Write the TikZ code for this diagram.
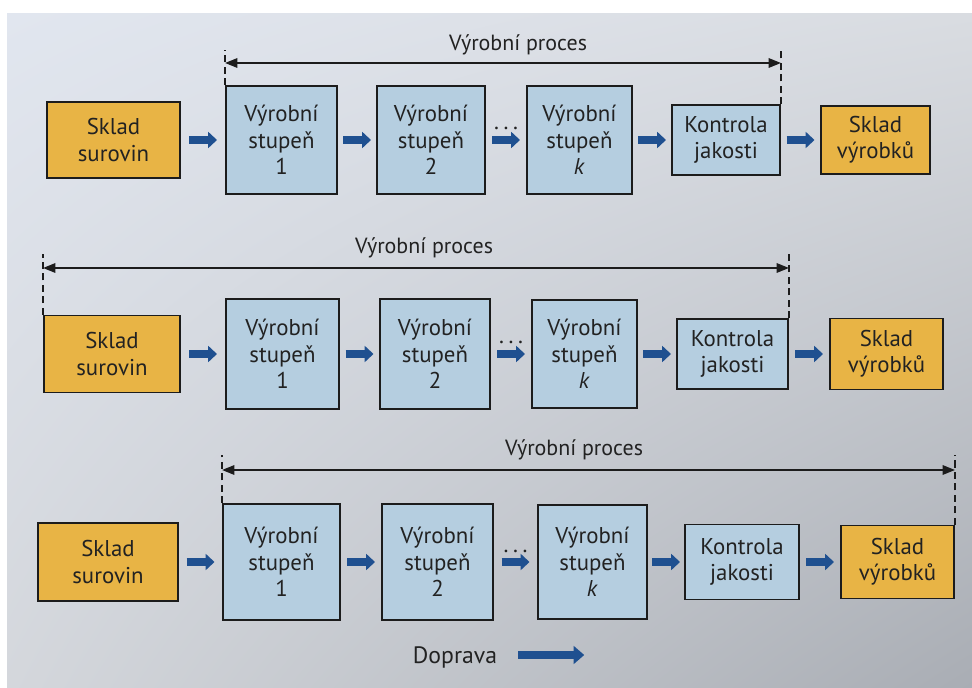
\documentclass[tikz,border=0pt]{standalone}
\usepackage{fontspec}
\setmainfont{PT Sans}
\usetikzlibrary{arrows.meta,calc,shadings}

\definecolor{storeyellow}{HTML}{E8B445}
\definecolor{stageblue}{HTML}{B5CEE0}
\definecolor{flowblue}{HTML}{1F5090}
\definecolor{edgeblack}{HTML}{1C1C1C}
\definecolor{inktext}{HTML}{222222}
\definecolor{pagetl}{HTML}{E1E6EF}
\definecolor{pagetr}{HTML}{D9DCE1}
\definecolor{pagebl}{HTML}{D4D7DC}
\definecolor{pagebr}{HTML}{A9ADB4}

% box from x1 to x2, centred vertically on yc, of height h (units: px)
% #1 name, #2 style, #3 x1, #4 x2, #5 yc, #6 h, #7 text
\newcommand\mkbox[7]{%
  \node[#2, minimum width={(#4-#3)*0.02cm}, minimum height={(#6)*0.02cm}]
    (#1) at ({(#3+#4)/2},#5) {#7};}
% widely spaced ellipsis
\newcommand\wdots{.\kern2.6pt.\kern2.6pt.}

\begin{document}
\begin{tikzpicture}[x=0.02cm,y=-0.02cm,
  box/.style={draw=edgeblack, line width=1pt, inner sep=0pt, align=center,
    font=\fontsize{13}{15}\selectfont, text=inktext},
  store/.style={box, fill=storeyellow},
  stage/.style={box, fill=stageblue},
  flow/.style={draw=flowblue, line width=4.3pt, -{Triangle[length=5pt,width=9pt]}},
  span/.style={draw=edgeblack, line width=0.7pt,
    {Triangle[length=7pt,width=5.5pt]}-{Triangle[length=7pt,width=5.5pt]}},
  limit/.style={draw=edgeblack, line width=0.8pt, dash pattern=on 4pt off 2.5pt},
  caption/.style={font=\fontsize{12.5}{14}\selectfont, text=inktext},
  dotsmark/.style={anchor=base, inner sep=0pt, font=\fontsize{13}{14}\selectfont, text=inktext},
]
\useasboundingbox (0,0) rectangle (972,688);

% page
\fill[white] (0,0) rectangle (972,688);
\shade[upper left=pagetl, upper right=pagetr, lower left=pagebl, lower right=pagebr]
  (7,14) rectangle (972,688);

% ---------- variant 1: process from stage 1 to quality control ----------
\mkbox{a1}{store}{47}{180}{140}{76}{Sklad\\surovin}
\mkbox{b1}{stage}{226}{337}{140}{108}{Výrobní\\stupeň\\1}
\mkbox{c1}{stage}{377}{485}{140}{108}{Výrobní\\stupeň\\2}
\mkbox{d1}{stage}{527}{632}{140}{108}{Výrobní\\stupeň\\\textit{k}}
\mkbox{e1}{stage}{672}{780}{140}{70}{Kontrola\\jakosti}
\mkbox{f1}{store}{821}{930}{140}{68}{Sklad\\výrobků}
\foreach \p/\q in {a1/b1,b1/c1,c1/d1,d1/e1,e1/f1}
  \draw[flow] ($(\p.east)!0.5!(\q.west)+(-14,0)$) -- +(28,0);
\node[dotsmark] (dots1) at ($(c1.east)!0.5!(d1.west)+(0,-10)$) {\wdots};
\coordinate (r1line) at (0,63);
\coordinate (r1top) at (0,50);
\draw[limit] (b1.north west) -- (b1.north west |- r1top);
\draw[limit] (e1.north east) -- (e1.north east |- r1top);
\draw[span] (b1.north west |- r1line) -- (e1.north east |- r1line);
\node[caption] (p1) at (518,45) {Výrobní proces};

% ---------- variant 2: process from raw material store to quality control ----------
\mkbox{a2}{store}{44}{180}{354}{77}{Sklad\\surovin}
\mkbox{b2}{stage}{226}{339}{354}{110}{Výrobní\\stupeň\\1}
\mkbox{c2}{stage}{380}{490}{354}{110}{Výrobní\\stupeň\\2}
\mkbox{d2}{stage}{532}{637}{354}{108}{Výrobní\\stupeň\\\textit{k}}
\mkbox{e2}{stage}{677}{788}{354}{70}{Kontrola\\jakosti}
\mkbox{f2}{store}{830}{943}{354}{71}{Sklad\\výrobků}
\foreach \p/\q in {a2/b2,b2/c2,c2/d2,d2/e2,e2/f2}
  \draw[flow] ($(\p.east)!0.5!(\q.west)+(-14,0)$) -- +(28,0);
\node[dotsmark] (dots2) at ($(c2.east)!0.5!(d2.west)+(0,-10)$) {\wdots};
\coordinate (r2line) at (0,268);
\coordinate (r2top) at (0,254);
\draw[limit] (a2.north west) -- (a2.north west |- r2top);
\draw[limit] (e2.north east) -- (e2.north east |- r2top);
\draw[span] (a2.north west |- r2line) -- (e2.north east |- r2line);
\node[caption] (p2) at (424,248) {Výrobní proces};

% ---------- variant 3: process from stage 1 to finished goods store ----------
\mkbox{a3}{store}{38}{178}{562}{78}{Sklad\\surovin}
\mkbox{b3}{stage}{223}{340}{562}{116}{Výrobní\\stupeň\\1}
\mkbox{c3}{stage}{382}{493}{562}{116}{Výrobní\\stupeň\\2}
\mkbox{d3}{stage}{538}{647}{562}{114}{Výrobní\\stupeň\\\textit{k}}
\mkbox{e3}{stage}{685}{799}{562}{75}{Kontrola\\jakosti}
\mkbox{f3}{store}{841}{954}{562}{73}{Sklad\\výrobků}
\foreach \p/\q in {a3/b3,b3/c3,c3/d3,d3/e3,e3/f3}
  \draw[flow] ($(\p.east)!0.5!(\q.west)+(-14,0)$) -- +(28,0);
\node[dotsmark] (dots3) at ($(c3.east)!0.5!(d3.west)+(0,-10)$) {\wdots};
\coordinate (r3line) at (0,470);
\coordinate (r3top) at (0,455);
\draw[limit] (b3.north west) -- (b3.north west |- r3top);
\draw[limit] (f3.north east) -- (f3.north east |- r3top);
\draw[span] (b3.north west |- r3line) -- (f3.north east |- r3line);
\node[caption] (p3) at (574,450) {Výrobní proces};

% ---------- legend ----------
\node[caption, font=\fontsize{13.5}{15}\selectfont] (dop) at (455,657) {Doprava};
\coordinate (legstart) at ($(dop.east)+(15,-2)$);
\draw[flow, line width=5pt, -{Triangle[length=6pt,width=10pt]}] (legstart) -- +(66,0);
\end{tikzpicture}
\end{document}
